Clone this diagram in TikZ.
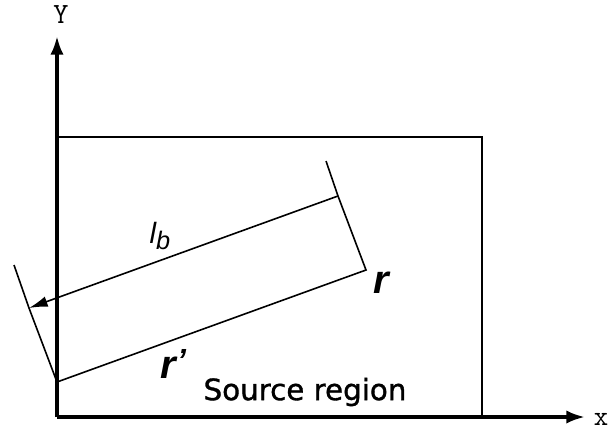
\documentclass[tikz,border=0pt]{standalone}
\usepackage{fontspec}
\setmainfont{Liberation Sans}
\newfontfamily\dejavu[FakeBold=1.2]{DejaVu Sans}
\usetikzlibrary{arrows.meta}
\tikzset{
  axis/.style={line width=2.6pt,-{Latex[length=14pt,width=10pt]}},
  boxline/.style={line width=1.4pt},
  thinline/.style={line width=1.2pt},
  lbl/.style={inner sep=0pt,anchor=center},
}
\begin{document}
\begin{tikzpicture}[x=0.75pt,y=-0.75pt]
\useasboundingbox (0,0) rectangle (609,430);
% axes
\coordinate (O) at (57,417);
\coordinate (Ytip) at (57,36);
\coordinate (Xtip) at (585,417);
\draw[axis] (O) -- (Ytip);
\draw[axis] (O) -- (Xtip);
\node[lbl] (ylab) at (61,15) {\ttfamily\fontsize{22}{22}\selectfont Y};
\node[lbl] (xlab) at (601,419) {\ttfamily\fontsize{21}{21}\selectfont x};
% source region box
\coordinate (TL) at (57,137);
\coordinate (TR) at (482,137);
\coordinate (BR) at (482,417);
\draw[boxline] (TL) -- (TR) -- (BR);
% inner rectangle
\coordinate (A) at (57,382);
\coordinate (B) at (366,270);
\coordinate (C) at (338,196);
\coordinate (D) at (29,308);
\coordinate (E) at (326,161);
\coordinate (F) at (14,265);
\draw[thinline] (A) -- (B) -- (C) -- (E);
\draw[thinline] (A) -- (D) -- (F);
\draw[thinline,-{Latex[length=14pt,width=8pt]}] (C) -- (D);
% labels
\node[lbl] (lb) at (160,236) {\itshape\fontsize{22}{22}\selectfont l\raisebox{-0.35ex}{\fontsize{19}{19}\selectfont b}};
\node[lbl] (rp) at (173,364) {\bfseries\itshape\fontsize{30}{30}\selectfont r\hspace{1pt}\raisebox{0.35ex}{\fontsize{24}{24}\selectfont\textquoteright}};
\node[lbl] (r) at (381,283) {\bfseries\itshape\fontsize{30}{30}\selectfont r};
\node[lbl] (src) at (305,392) {\dejavu\fontsize{22}{22}\selectfont Source region};
\end{tikzpicture}
\end{document}
